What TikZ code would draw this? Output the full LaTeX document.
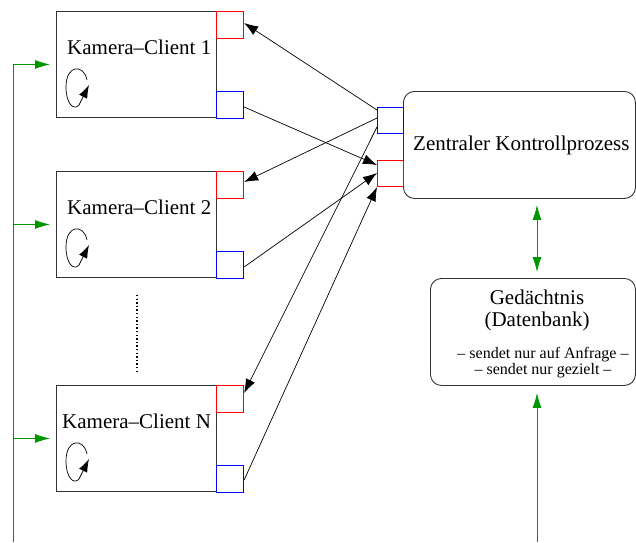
\documentclass[tikz,border=0pt]{standalone}
\usepackage{fontspec}
\setmainfont{Liberation Serif}
\usetikzlibrary{arrows.meta,calc}

\definecolor{flow}{RGB}{0,150,0}
\definecolor{portred}{RGB}{255,0,0}
\definecolor{portblue}{RGB}{0,0,255}

\tikzset{
  client/.style={draw=black!80, line width=0.9pt, minimum width=160pt, minimum height=106pt, inner sep=0pt, anchor=north west},
  port/.style={line width=1.1pt, minimum width=27pt, minimum height=27pt, inner sep=0pt, anchor=north west},
  inport/.style={port, draw=portred},
  outport/.style={port, draw=portblue},
  roundbox/.style={draw=black!80, line width=0.9pt, rounded corners=11pt, inner sep=0pt, anchor=north west},
  bigtext/.style={font=\fontsize{21}{24}\selectfont, inner sep=0pt},
  smalltext/.style={font=\fontsize{16}{16}\selectfont, inner sep=0pt},
  conn/.style={line width=0.7pt, -{Latex[length=14pt,width=10pt]}},
  flowline/.style={draw=flow, line width=0.9pt},
  flowarrow/.style={flowline, -{Latex[length=15pt,width=9pt]}},
  flowboth/.style={flowline, {Latex[length=15pt,width=9pt]}-{Latex[length=15pt,width=9pt]}},
  loopline/.style={line width=0.7pt, -{Latex[length=13pt,width=9pt]}},
}

\begin{document}
\begin{tikzpicture}[x=1pt, y=-1pt]
\useasboundingbox (0,0) rectangle (636,542);

% camera clients
\node[client] (c1) at (56,11) {};
\node[client] (c2) at (56,171) {};
\node[client] (cN) at (56,385) {};

\node[bigtext, anchor=base west] (t1) at (67,54) {Kamera–Client 1};
\node[bigtext, anchor=base west] (t2) at (67,214) {Kamera–Client 2};
\node[bigtext, anchor=base west] (tN) at (62,428) {Kamera–Client N};

% local processing loops
\foreach \dy in {0,160,374}{
  \begin{scope}[shift={(0,\dy)}]
    \draw[loopline] (87,80) .. controls (84,64) and (66,64) .. (66,87)
      .. controls (66,104) and (74,111) .. (79,105) -- (89,85);
  \end{scope}
}

% further clients
\draw[line width=1.8pt, dash pattern=on 1.4pt off 2.2pt] (137,295) -- (137,373);

% central control process
\node[roundbox, minimum width=232pt, minimum height=107pt] (kp) at (403,91) {};
\node[bigtext, anchor=base west] (kpt) at (413,150) {Zentraler Kontrollprozess};

% memory
\node[roundbox, minimum width=205pt, minimum height=107pt] (mem) at (430,278) {};
\node[bigtext, anchor=base] (m1) at (537,304) {Gedächtnis};
\node[bigtext, anchor=base] (m2) at (537,326) {(Datenbank)};
\node[smalltext, anchor=base] (m3) at (543,358) {– sendet nur auf Anfrage –};
\node[smalltext, anchor=base] (m4) at (543,374) {– sendet nur gezielt –};

% input (red) and output (blue) ports
\node[inport] (c1r) at (216,11) {};
\node[outport] (c1b) at (216,91) {};
\node[inport] (c2r) at (216,171) {};
\node[outport] (c2b) at (216,251) {};
\node[inport] (cNr) at (216,385) {};
\node[outport] (cNb) at (216,465) {};
\node[outport, minimum width=26pt, minimum height=26pt] (kb) at (377,107) {};
\node[inport, minimum width=26pt, minimum height=26pt] (kr) at (377,160) {};

% messages between clients and central process
\draw[conn] ($(kb.north west)+(0,3)$) -- ($(c1r.north east)+(0,12)$);
\draw[conn] ($(c1b.north east)+(0,16)$) -- ($(kr.north west)+(0,5)$);
\draw[conn] ($(kb.north west)+(0,11)$) -- ($(c2r.north east)+(0,11)$);
\draw[conn] ($(c2b.north east)+(0,16)$) -- ($(kr.north west)+(0,13)$);
\draw[conn] ($(kb.north west)+(0,20)$) -- ($(cNr.north east)+(0,8)$);
\draw[conn] ($(cNb.north east)+(0,15)$) -- (kr.south west);

% green control lines
\coordinate (busbot) at (13,542);
\draw[flowline] (busbot) -- (busbot |- c1.west);
\foreach \c in {c1,c2,cN}{
  \draw[flowarrow, shorten >=6pt] (busbot |- \c.west) -- (\c.west);
}
\coordinate (ax) at (537,0);
\draw[flowboth, shorten <=6pt, shorten >=6pt] (ax |- kp.south) -- (ax |- mem.north);
\coordinate (membot) at (537,542);
\draw[flowarrow, shorten >=7pt] (membot) -- (membot |- mem.south);
\end{tikzpicture}
\end{document}
